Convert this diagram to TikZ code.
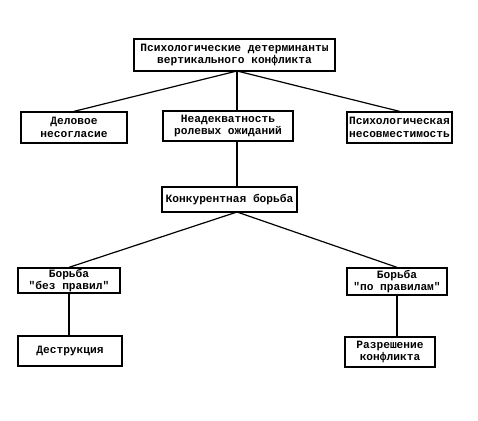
\documentclass[tikz,border=0pt]{standalone}
\usepackage{fontspec}
\setmainfont{Liberation Mono}
\begin{document}
\begin{tikzpicture}[x=1pt,y=-1pt,
  box/.style={draw,line width=1.3pt,rectangle,inner sep=0.5pt,align=center,
    font=\fontsize{11.2}{12.5}\selectfont\bfseries},
  conn/.style={line width=1.2pt}]
\useasboundingbox (0,0) rectangle (478,420);
\node[box,minimum width=201pt,minimum height=32pt] (top) at (234.5,55) {Психологические детерминанты\\вертикального конфликта};
\node[box,minimum width=106pt,minimum height=31pt] (del) at (74,127.5) {Деловое\\несогласие};
\node[box,minimum width=130pt,minimum height=30pt] (ned) at (228,126) {Неадекватность\\ролевых ожиданий};
\node[box,minimum width=105pt,minimum height=31pt] (psy) at (399.5,127.5) {Психологическая\\несовместимость};
\node[box,minimum width=135pt,minimum height=25pt] (kon) at (229.5,199.5) {Конкурентная борьба};
\node[box,minimum width=102pt,minimum height=25pt] (bez) at (69,280.5) {Борьба\\\textquotedbl без правил\textquotedbl};
\node[box,minimum width=100pt,minimum height=27pt] (po) at (397,281.5) {Борьба\\\textquotedbl по правилам\textquotedbl};
\node[box,minimum width=104pt,minimum height=30pt] (des) at (70,351) {Деструкция};
\node[box,minimum width=90pt,minimum height=30pt] (raz) at (390,352) {Разрешение\\конфликта};
\coordinate (j1) at (237,71);
\coordinate (j2) at (237,212);
\draw[conn] (j1) -- (del.north);
\draw[conn] (j1) -- (j1 |- ned.north);
\draw[conn] (j1) -- (psy.north);
\draw[conn] (j1 |- ned.south) -- (j1 |- kon.north);
\draw[conn] (j2) -- (bez.north);
\draw[conn] (j2) -- (po.north);
\draw[conn] (bez.south) -- (bez.south |- des.north);
\draw[conn] (po.south) -- (po.south |- raz.north);
\end{tikzpicture}
\end{document}
